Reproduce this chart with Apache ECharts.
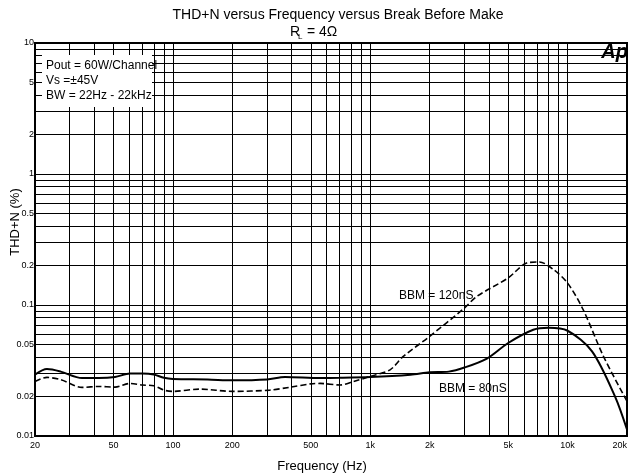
<!DOCTYPE html>
<html><head><meta charset="utf-8">
<script src="https://cdn.jsdelivr.net/npm/echarts@6/dist/echarts.min.js"></script>
<style>html,body{margin:0;padding:0;background:#fff}#c{width:629px;height:474px}</style>
</head><body><div id="c"></div>
<script>
const freq80 = [20, 23, 27, 34.6, 42, 50.9, 60.6, 70, 80, 90, 100, 150, 200, 300, 370, 557, 700, 1000, 1600, 2000, 2500, 3000, 3900, 5000, 6700, 8000, 10000, 13300, 17400, 20000];
const thd80 = [0.0294, 0.0324, 0.031, 0.0277, 0.0277, 0.0282, 0.030, 0.030, 0.0295, 0.0278, 0.0272, 0.027, 0.0266, 0.027, 0.0282, 0.0277, 0.0278, 0.0282, 0.0294, 0.0306, 0.031, 0.0333, 0.039, 0.0513, 0.0647, 0.067, 0.0636, 0.0443, 0.020, 0.0112];
const freq120 = [20, 23, 27, 34.6, 42, 50.9, 60.6, 70, 80, 90, 100, 137, 200, 310, 394, 500, 557, 703, 820, 1000, 1260, 1470, 2000, 3000, 3470, 5000, 6200, 7200, 8500, 10000, 12000, 15200, 20000];
const thd120 = [0.0261, 0.028, 0.0269, 0.0235, 0.0239, 0.0236, 0.0252, 0.0245, 0.0242, 0.0224, 0.0219, 0.0228, 0.0219, 0.0224, 0.0236, 0.025, 0.0252, 0.0245, 0.026, 0.0285, 0.032, 0.0405, 0.0576, 0.0948, 0.1164, 0.161, 0.209, 0.213, 0.186, 0.147, 0.092, 0.0405, 0.0184];
const xTickLabels = [20, 50, 100, 200, 500, 1000, 2000, 5000, 10000, 20000];
const yTickLabels = [0.01, 0.02, 0.05, 0.1, 0.2, 0.5, 1, 2, 5, 10];
const xGridLines = [30, 40, 50, 60, 70, 80, 90, 100, 200, 300, 400, 500, 600, 700, 800, 900, 1000, 2000, 3000, 4000, 5000, 6000, 7000, 8000, 9000, 10000];
const yGridLines = [0.02, 0.03, 0.04, 0.05, 0.06, 0.07, 0.08, 0.09, 0.1, 0.2, 0.3, 0.4, 0.5, 0.6, 0.7, 0.8, 0.9, 1, 2, 3, 4, 5, 6, 7, 8, 9];

const FONT = '"Liberation Sans", Arial, sans-serif';
const chart = echarts.init(document.getElementById('c'), null, {renderer: 'canvas'});
const pair = (xs, ys) => xs.map((x, i) => [x, ys[i]]);
const gridStyle = {color: '#000', width: 1, type: 'solid'};

chart.setOption({
  animation: false,
  backgroundColor: '#fff',
  grid: {left: 35, right: 2, top: 43, bottom: 38, containLabel: false, outerBoundsMode: 'none', show: true, borderColor: '#000', borderWidth: 2, backgroundColor: 'transparent'},
  xAxis: {
    type: 'log', logBase: 10, min: 20, max: 20000,
    axisLine: {show: false}, axisTick: {show: false}, splitLine: {show: false},
    axisLabel: {customValues: xTickLabels, margin: 5, fontSize: 9, color: '#000', fontFamily: FONT,
      alignMaxLabel: 'right',
      formatter: v => v >= 1000 ? (v / 1000) + 'k' : String(v)}
  },
  yAxis: {
    type: 'log', logBase: 10, min: 0.01, max: 10,
    axisLine: {show: false}, axisTick: {show: false}, splitLine: {show: false},
    axisLabel: {customValues: yTickLabels, margin: 1, fontSize: 9, color: '#000', fontFamily: FONT,
      formatter: v => String(v)}
  },
  series: [
    {type: 'line', data: [], silent: true, z: 1,
      markLine: {silent: true, symbol: 'none', label: {show: false}, lineStyle: gridStyle, animation: false,
        data: xGridLines.map(v => ({xAxis: v})).concat(yGridLines.map(v => ({yAxis: v})))}},
    {name: 'BBM = 80nS', type: 'line', data: pair(freq80, thd80), showSymbol: false, smooth: 0.3, z: 3,
      lineStyle: {color: '#000', width: 2}},
    {name: 'BBM = 120nS', type: 'line', data: pair(freq120, thd120), showSymbol: false, smooth: 0.3, z: 3,
      lineStyle: {color: '#000', width: 1.6, type: [6, 3]}}
  ],
  graphic: [
    {type: 'text', x: 338, y: 15, z: 10, style: {text: 'THD+N versus Frequency versus Break Before Make', font: '14px ' + FONT, fill: '#000', textAlign: 'center', textVerticalAlign: 'middle'}},
    {type: 'text', x: 290, y: 32.5, z: 10, style: {text: 'R', font: '14px ' + FONT, fill: '#000', textAlign: 'left', textVerticalAlign: 'middle'}},
    {type: 'text', x: 298, y: 37, z: 10, style: {text: 'L', font: '8px ' + FONT, fill: '#000', textAlign: 'left', textVerticalAlign: 'middle'}},
    {type: 'text', x: 307, y: 32.5, z: 10, style: {text: '= 4Ω', font: '14px ' + FONT, fill: '#000', textAlign: 'left', textVerticalAlign: 'middle'}},
    {type: 'rect', z: 9, shape: {x: 42, y: 55, width: 110, height: 52}, style: {fill: '#fff'}},
    {type: 'text', x: 46, y: 65.5, z: 10, style: {text: 'Pout = 60W/Channel', font: '12px ' + FONT, fill: '#000', textVerticalAlign: 'middle'}},
    {type: 'text', x: 46, y: 81, z: 10, style: {text: 'Vs =±45V', font: '12px ' + FONT, fill: '#000', textVerticalAlign: 'middle'}},
    {type: 'text', x: 46, y: 95.5, z: 10, style: {text: 'BW = 22Hz - 22kHz', font: '12px ' + FONT, fill: '#000', textVerticalAlign: 'middle'}},
    {type: 'text', x: 628, y: 42, z: 10, style: {text: 'Ap', font: 'italic bold 20px ' + FONT, fill: '#000', textAlign: 'right', textVerticalAlign: 'top'}},
    {type: 'text', x: 399, y: 295.7, z: 10, style: {text: 'BBM = 120nS', font: '12px ' + FONT, fill: '#000', textVerticalAlign: 'middle'}},
    {type: 'text', x: 439, y: 389, z: 10, style: {text: 'BBM = 80nS', font: '12px ' + FONT, fill: '#000', textVerticalAlign: 'middle'}},
    {type: 'text', x: 322, y: 466, z: 10, style: {text: 'Frequency (Hz)', font: '13px ' + FONT, fill: '#000', textAlign: 'center', textVerticalAlign: 'middle'}},
    {type: 'text', x: 15, y: 222, rotation: Math.PI / 2, z: 10, style: {text: 'THD+N (%)', font: '13px ' + FONT, fill: '#000', textAlign: 'center', textVerticalAlign: 'middle'}}
  ]
});
</script>
</body></html>
